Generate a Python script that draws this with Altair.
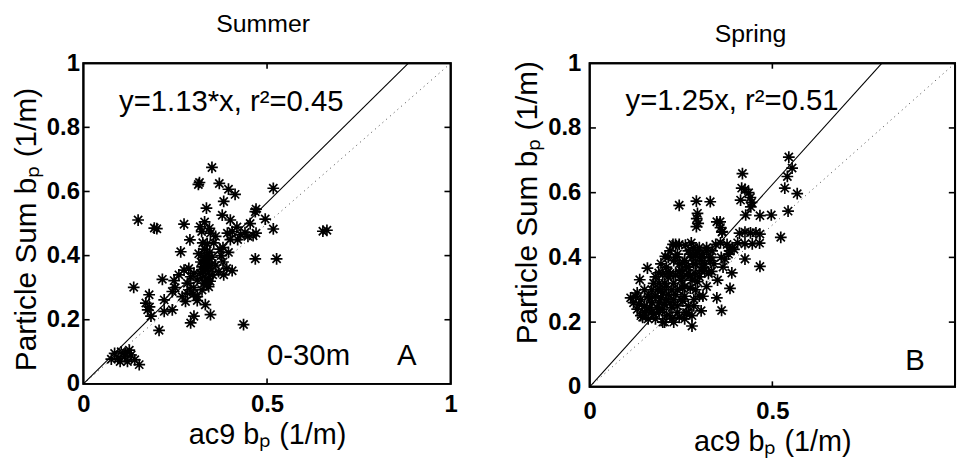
import altair as alt
import pandas as pd

FONT = "Liberation Sans"

# ---------------- data ----------------
summer_x = [0.350, 0.316, 0.313, 0.370, 0.395, 0.413, 0.517, 0.382, 0.335, 0.470,
            0.468, 0.149, 0.193, 0.200, 0.274, 0.318, 0.330, 0.322, 0.343, 0.346,
            0.378, 0.400, 0.418, 0.454, 0.495, 0.517, 0.392, 0.405, 0.428, 0.440,
            0.448, 0.462, 0.470, 0.420, 0.400, 0.652, 0.663, 0.290, 0.337, 0.372,
            0.380, 0.375, 0.395, 0.265, 0.468, 0.526, 0.314, 0.328, 0.323, 0.337,
            0.319, 0.332, 0.346, 0.328, 0.341, 0.323, 0.310, 0.301, 0.287, 0.274,
            0.292, 0.283, 0.368, 0.382, 0.405, 0.215, 0.247, 0.242, 0.137, 0.179,
            0.170, 0.175, 0.184, 0.220, 0.220, 0.242, 0.278, 0.283, 0.292, 0.301,
            0.292, 0.332, 0.346, 0.436, 0.206, 0.310, 0.269, 0.330, 0.335, 0.325,
            0.340, 0.330, 0.325, 0.335, 0.345, 0.320, 0.076, 0.085, 0.094, 0.103,
            0.112, 0.125, 0.120, 0.140, 0.152, 0.100, 0.130, 0.115, 0.360, 0.355,
            0.380, 0.300, 0.260, 0.350, 0.338, 0.342, 0.330, 0.348, 0.336, 0.352,
            0.326, 0.344, 0.300, 0.310, 0.250, 0.180, 0.360, 0.390]
summer_y = [0.675, 0.628, 0.622, 0.625, 0.607, 0.591, 0.610, 0.569, 0.548, 0.545,
            0.537, 0.511, 0.486, 0.484, 0.498, 0.490, 0.505, 0.475, 0.485, 0.470,
            0.526, 0.511, 0.489, 0.500, 0.514, 0.483, 0.470, 0.475, 0.465, 0.472,
            0.460, 0.462, 0.470, 0.450, 0.450, 0.476, 0.479, 0.449, 0.437, 0.420,
            0.425, 0.400, 0.410, 0.412, 0.390, 0.390, 0.406, 0.386, 0.365, 0.376,
            0.345, 0.334, 0.350, 0.314, 0.303, 0.293, 0.324, 0.345, 0.360, 0.355,
            0.334, 0.314, 0.350, 0.340, 0.353, 0.326, 0.322, 0.288, 0.301, 0.278,
            0.252, 0.231, 0.211, 0.262, 0.226, 0.231, 0.257, 0.283, 0.293, 0.211,
            0.190, 0.247, 0.216, 0.185, 0.167, 0.272, 0.272, 0.420, 0.400, 0.440,
            0.380, 0.360, 0.330, 0.310, 0.320, 0.380, 0.077, 0.095, 0.080, 0.100,
            0.085, 0.105, 0.070, 0.075, 0.060, 0.070, 0.090, 0.095, 0.460, 0.440,
            0.380, 0.300, 0.340, 0.395, 0.355, 0.335, 0.395, 0.370, 0.325, 0.340,
            0.350, 0.410, 0.280, 0.260, 0.300, 0.240, 0.370, 0.360]

spring_x = [0.545, 0.554, 0.541, 0.534, 0.568, 0.543, 0.523,
            0.418, 0.416, 0.425, 0.435, 0.440, 0.443, 0.441, 0.413, 0.427, 0.466, 0.497,
            0.357, 0.363,
            0.410, 0.425, 0.440, 0.455, 0.466,
            0.405, 0.425, 0.445, 0.465,
            0.358, 0.376, 0.390, 0.383,
            0.425, 0.466, 0.389, 0.384, 0.360, 0.365,
            0.245, 0.292, 0.330, 0.295, 0.293, 0.297, 0.292, 0.348, 0.358, 0.362,
            0.228, 0.245, 0.262, 0.278, 0.285,
            0.207, 0.158, 0.189, 0.137, 0.334, 0.348, 0.361, 0.280, 0.112,
            0.345, 0.335, 0.320, 0.310, 0.300,
            0.330, 0.315, 0.305, 0.290,
            0.120, 0.130, 0.140, 0.150, 0.160, 0.150, 0.170, 0.180, 0.190, 0.200,
            0.210, 0.200, 0.220, 0.230, 0.240, 0.250, 0.220, 0.210, 0.230, 0.250,
            0.260, 0.270, 0.280, 0.260, 0.240, 0.290, 0.300, 0.310, 0.280, 0.270,
            0.290, 0.190, 0.180, 0.170, 0.160, 0.140, 0.130, 0.220, 0.240, 0.260,
            0.280, 0.300, 0.320, 0.310, 0.200, 0.230, 0.210, 0.190, 0.250, 0.270,
            0.290, 0.260, 0.240, 0.220, 0.210, 0.230, 0.170, 0.150, 0.125, 0.180,
            0.200, 0.215, 0.235, 0.330, 0.320, 0.300, 0.270, 0.255, 0.245, 0.285,
            0.135, 0.145, 0.165, 0.175, 0.185, 0.195, 0.205, 0.215, 0.225, 0.235,
            0.245, 0.255, 0.265, 0.275, 0.155, 0.175, 0.195, 0.215, 0.235, 0.255,
            0.275, 0.295, 0.165, 0.185, 0.205, 0.225, 0.245, 0.265, 0.285, 0.305,
            0.195, 0.215, 0.235, 0.255, 0.275, 0.295, 0.315, 0.205, 0.225, 0.265,
            0.285, 0.305, 0.325, 0.340, 0.350, 0.370, 0.380, 0.395]
spring_y = [0.710, 0.676, 0.650, 0.614, 0.597, 0.543, 0.462,
            0.659, 0.614, 0.610, 0.600, 0.585, 0.570, 0.556, 0.577, 0.531, 0.529, 0.531,
            0.510, 0.480,
            0.475, 0.478, 0.476, 0.476, 0.472,
            0.445, 0.442, 0.442, 0.444,
            0.445, 0.440, 0.430, 0.420,
            0.395, 0.372, 0.352, 0.304, 0.400, 0.370,
            0.561, 0.574, 0.572, 0.536, 0.520, 0.505, 0.495, 0.510, 0.492, 0.478,
            0.440, 0.440, 0.438, 0.445, 0.430,
            0.403, 0.367, 0.352, 0.331, 0.357, 0.275, 0.236, 0.188, 0.275,
            0.440, 0.420, 0.430, 0.410, 0.400,
            0.390, 0.380, 0.360, 0.350,
            0.260, 0.240, 0.220, 0.250, 0.280, 0.300, 0.230, 0.210, 0.260, 0.290,
            0.310, 0.240, 0.220, 0.270, 0.300, 0.330, 0.350, 0.370, 0.390, 0.360,
            0.280, 0.250, 0.220, 0.210, 0.230, 0.300, 0.340, 0.370, 0.400, 0.420,
            0.380, 0.320, 0.340, 0.300, 0.210, 0.270, 0.290, 0.260, 0.250, 0.310,
            0.330, 0.280, 0.310, 0.280, 0.200, 0.200, 0.220, 0.230, 0.270, 0.350,
            0.410, 0.390, 0.410, 0.420, 0.270, 0.320, 0.260, 0.230, 0.280, 0.280,
            0.350, 0.400, 0.440, 0.400, 0.420, 0.430, 0.370, 0.340, 0.380, 0.270,
            0.255, 0.215, 0.245, 0.225, 0.245, 0.275, 0.255, 0.285, 0.245, 0.285,
            0.215, 0.265, 0.225, 0.305, 0.235, 0.320, 0.300, 0.340, 0.345, 0.305,
            0.345, 0.325, 0.275, 0.300, 0.320, 0.300, 0.355, 0.370, 0.380, 0.390,
            0.380, 0.355, 0.400, 0.385, 0.410, 0.420, 0.360, 0.200, 0.210, 0.230,
            0.250, 0.235, 0.350, 0.380, 0.330, 0.395, 0.410, 0.425]

# fit lines (y = slope * x, clipped at y = 1) and 1:1 lines
summer_fit_x = [0.0, 0.885]
summer_fit_y = [0.0, 1.0]
spring_fit_x = [0.0, 0.80]
spring_fit_y = [0.0, 1.0]
one_x = [0.0, 1.0]
one_y = [0.0, 1.0]

# axes box (corners of the 0..1 square, drawn as a closed path)
box_x = [0, 1, 1, 0, 0]
box_y = [0, 0, 1, 1, 0]

x_ticks = [0, 0.5, 1]
y_ticks = [0, 0.2, 0.4, 0.6, 0.8, 1]
inner_x_ticks = [0.5]
inner_y_ticks = [0.2, 0.4, 0.6, 0.8]
TICK_LEN = 0.017  # inward tick length as fraction of axis

summer_text = ["y=1.13*x, r\u00b2=0.45", "0-30m", "A"]
summer_text_x = [0.097, 0.50, 0.854]
summer_text_y = [0.88, 0.087, 0.087]
spring_text = ["y=1.25x, r\u00b2=0.51", "B"]
spring_text_x = [0.098, 0.864]
spring_text_y = [0.883, 0.08]

ASTERISK = "M-1,0L1,0M0,-1L0,1M-0.7,-0.7L0.7,0.7M-0.7,0.7L0.7,-0.7"


def tick_table():
    rows = []
    seg = 0
    for v in inner_y_ticks:
        for (a, b) in [(0.0, TICK_LEN), (1.0, 1.0 - TICK_LEN)]:
            rows.append({"x": a, "y": v, "seg": seg, "i": 0})
            rows.append({"x": b, "y": v, "seg": seg, "i": 1})
            seg += 1
    for v in inner_x_ticks:
        for (a, b) in [(0.0, TICK_LEN), (1.0, 1.0 - TICK_LEN)]:
            rows.append({"x": v, "y": a, "seg": seg, "i": 0})
            rows.append({"x": v, "y": b, "seg": seg, "i": 1})
            seg += 1
    return pd.DataFrame(rows)


def panel(title, px, py, fx, fy, tx, ty, tt, w, h, title_offset, title_dx,
          xlab_pad, ylab_pad, ytitle_y, xlabel_expr):
    xsc = alt.Scale(domain=[0, 1], nice=False, zero=False)
    ysc = alt.Scale(domain=[0, 1], nice=False, zero=False)
    xaxis = alt.Axis(values=x_ticks, labelExpr=xlabel_expr,
                     labelFontWeight="bold",
                     labelFontSize=24, labelPadding=xlab_pad, ticks=False,
                     domain=False, grid=False, labelFlush=False,
                     labelOverlap=False, labelColor="black",
                     title="ac9 b\u209a (1/m)", titleFontSize=29,
                     titleFontWeight="normal", titleColor="black",
                     titlePadding=4, titleFont=FONT, labelFont=FONT)
    yaxis = alt.Axis(values=y_ticks, format="~g", labelFontWeight="bold",
                     labelFontSize=24, labelPadding=ylab_pad, ticks=False,
                     domain=False, grid=False, labelFlush=False,
                     labelOverlap=False, labelColor="black",
                     title="Particle Sum b\u209a (1/m)", titleFontSize=30,
                     titleFontWeight="normal", titleColor="black",
                     titlePadding=5, titleY=ytitle_y, titleFont=FONT,
                     labelFont=FONT)

    def X(f):
        return alt.X(f"{f}:Q", scale=xsc, axis=xaxis)

    def Y(f):
        return alt.Y(f"{f}:Q", scale=ysc, axis=yaxis)

    pts = alt.Chart(pd.DataFrame({"x": px, "y": py})).mark_point(
        shape=ASTERISK, filled=False, color="black", size=140,
        strokeWidth=1.7, opacity=1
    ).encode(x=X("x"), y=Y("y"))

    one = alt.Chart(pd.DataFrame({"x": one_x, "y": one_y})).mark_line(
        color="#444444", strokeWidth=1, strokeDash=[1, 4]
    ).encode(x=X("x"), y=Y("y"))

    fit = alt.Chart(pd.DataFrame({"x": fx, "y": fy})).mark_line(
        color="black", strokeWidth=1.1
    ).encode(x=X("x"), y=Y("y"))

    txt = alt.Chart(pd.DataFrame({"x": tx, "y": ty, "t": tt})).mark_text(
        align="left", baseline="middle", fontSize=29.5, font=FONT, color="black"
    ).encode(x=X("x"), y=Y("y"), text="t:N")

    box = alt.Chart(pd.DataFrame({"x": box_x, "y": box_y,
                                  "i": list(range(len(box_x)))})).mark_line(
        color="black", strokeWidth=2, strokeCap="square"
    ).encode(x=X("x"), y=Y("y"), order=alt.Order("i:Q"))

    ticks = alt.Chart(tick_table()).mark_line(
        color="black", strokeWidth=1.6
    ).encode(x=X("x"), y=Y("y"), detail="seg:N", order=alt.Order("i:Q"))

    return alt.layer(pts, one, fit, txt, ticks, box).properties(
        width=w, height=h,
        title=alt.TitleParams(title, fontSize=25, fontWeight="normal",
                              font=FONT, color="black", offset=title_offset,
                              dx=title_dx))


left = panel("Summer", summer_x, summer_y, summer_fit_x, summer_fit_y,
             summer_text_x, summer_text_y, summer_text, 370, 323, 14, -4,
             9, 4, 167, "format(datum.value, '~g')")
right = panel("Spring", spring_x, spring_y, spring_fit_x, spring_fit_y,
              spring_text_x, spring_text_y, spring_text, 368, 326, 4, -22,
              13, 9, 140, "datum.value == 1 ? '' : format(datum.value, '~g')")

chart = alt.hconcat(left, right, spacing=140, bounds="flush").properties(
    padding={"left": 10, "top": 10, "right": 0, "bottom": 0}
).configure(font=FONT).configure_view(stroke="black", strokeWidth=2)

chart.save("out.html", embed_options={"renderer": "svg", "actions": False})
